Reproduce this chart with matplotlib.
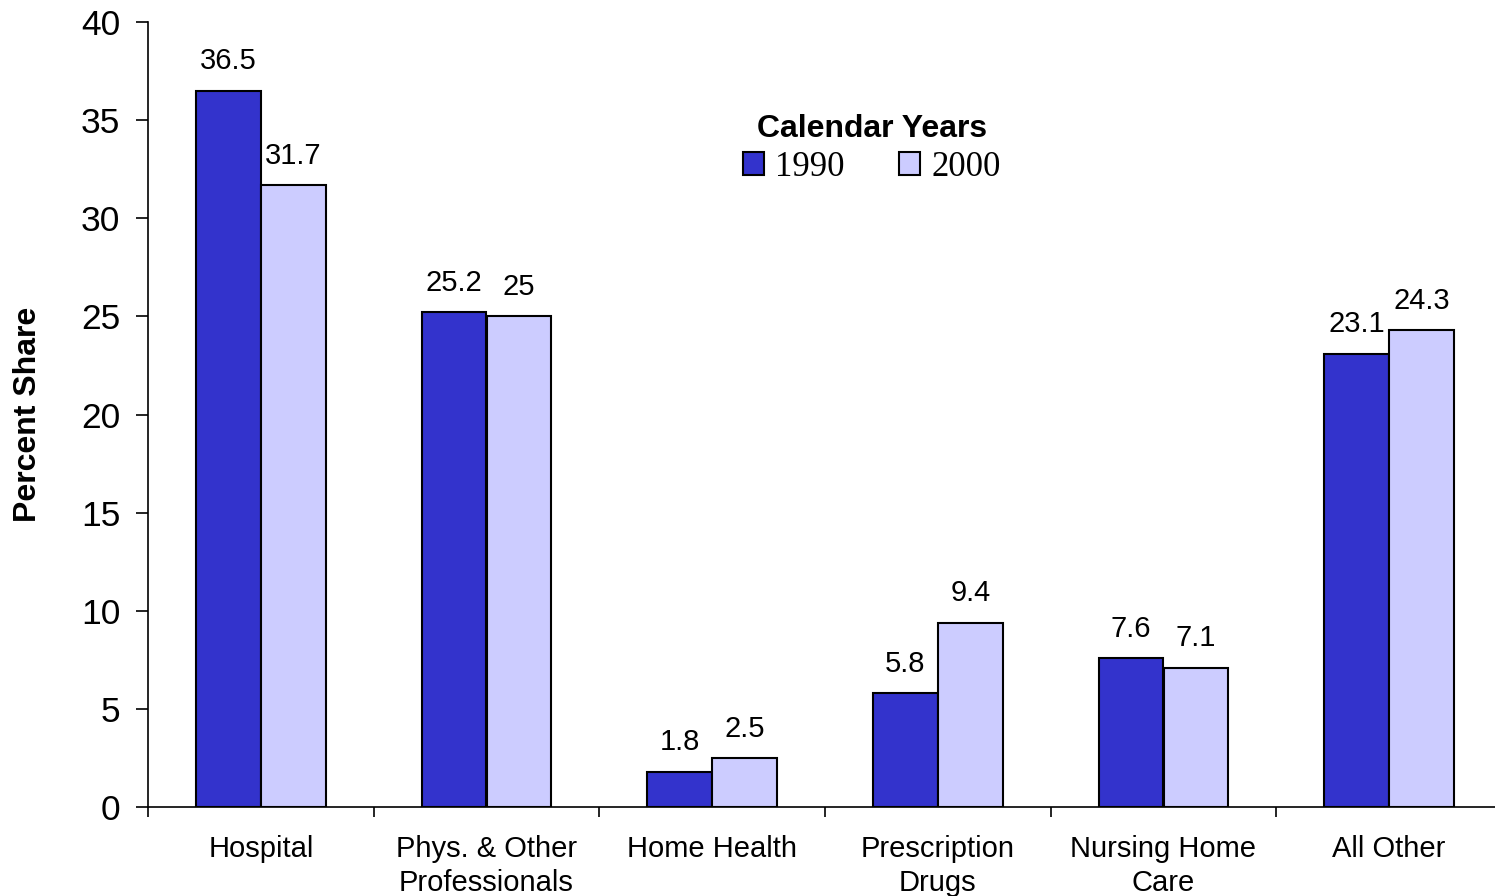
import matplotlib
matplotlib.use("Agg")
import matplotlib.pyplot as plt
import numpy as np

categories = ["Hospital", "Phys. & Other\nProfessionals", "Home Health",
              "Prescription\nDrugs", "Nursing Home\nCare", "All Other"]
share_1990 = [36.5, 25.2, 1.8, 5.8, 7.6, 23.1]
share_2000 = [31.7, 25.0, 2.5, 9.4, 7.1, 24.3]
labels_1990 = ["36.5", "25.2", "1.8", "5.8", "7.6", "23.1"]
labels_2000 = ["31.7", "25", "2.5", "9.4", "7.1", "24.3"]
yticks = [0, 5, 10, 15, 20, 25, 30, 35, 40]

plt.rcParams["font.family"] = ["Liberation Sans", "DejaVu Sans"]

fig = plt.figure(figsize=(14.95, 8.96), dpi=100)
ax = fig.add_axes([148 / 1495, 89 / 896, 1354 / 1495, 785 / 896])

x = np.arange(len(categories))
w = 0.288
b1 = ax.bar(x - w / 2, share_1990, w, color="#3333CC", edgecolor="black",
            linewidth=1.5, label="1990")
b2 = ax.bar(x + w / 2, share_2000, w, color="#CCCCFF", edgecolor="black",
            linewidth=1.5, label="2000")
ax.bar_label(b1, labels=labels_1990, padding=11, fontsize=21)
ax.bar_label(b2, labels=labels_2000, padding=11, fontsize=21)

ax.set_xlim(-0.5, len(categories) - 0.5)
ax.set_ylim(0, 40)
ax.set_yticks(yticks)
ax.tick_params(axis="y", labelsize=25.5, length=9, width=1.2, direction="out", pad=11)
ax.set_xticks(x)
ax.set_xticklabels(categories, fontsize=21, linespacing=1.3)
ax.tick_params(axis="x", length=0, pad=20)
ax.set_xticks(np.arange(len(categories) + 1) - 0.5, minor=True)
ax.tick_params(axis="x", which="minor", length=7, width=1.2, direction="out")

for s in ["top", "right"]:
    ax.spines[s].set_visible(False)
ax.spines["left"].set_linewidth(1.2)
ax.spines["bottom"].set_linewidth(1.2)

ax.set_ylabel("Percent Share", fontsize=23, fontweight="bold", labelpad=27)

leg = ax.legend(title="Calendar Years", ncol=2, frameon=False,
                loc="upper center", bbox_to_anchor=(0.5348, 0.914),
                prop={"family": "Liberation Serif", "size": 25},
                handlelength=0.6, handleheight=0.6, handletextpad=0.32,
                columnspacing=1.57, borderpad=0.2, labelspacing=0.2)
leg.get_title().set_fontsize(23)
leg.get_title().set_fontweight("bold")

fig.savefig("out.png", dpi=100)
